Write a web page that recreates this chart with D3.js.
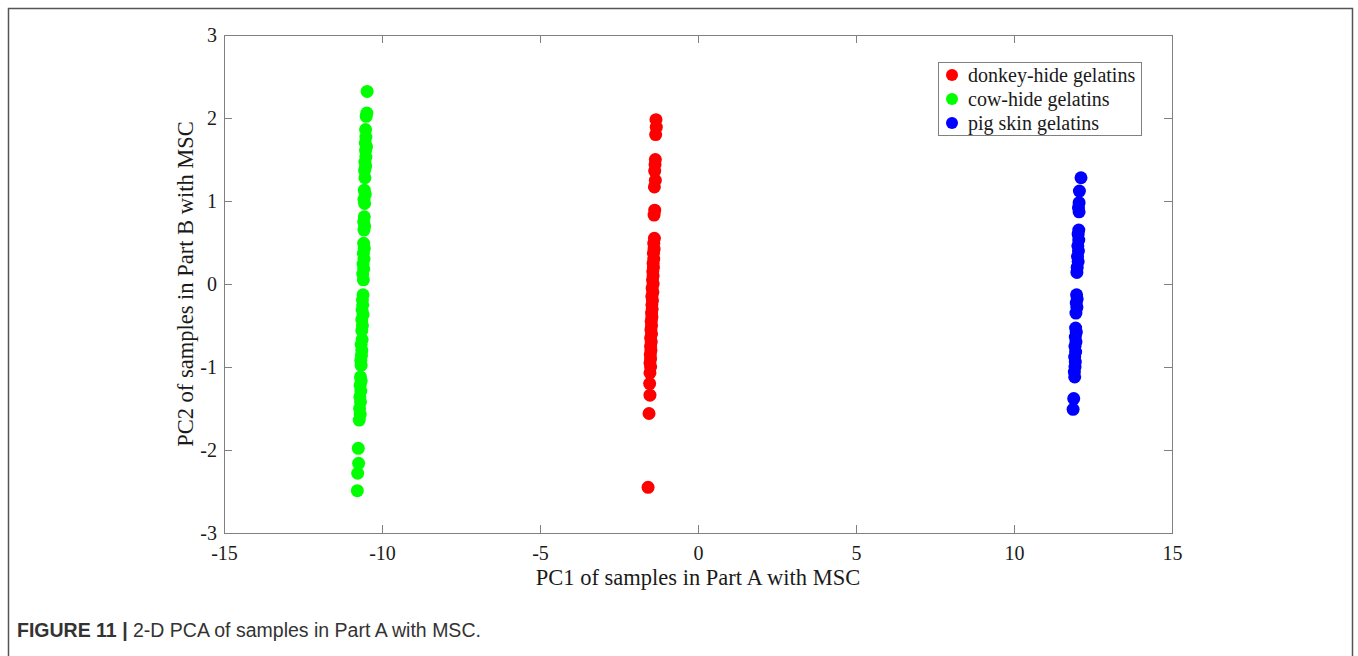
<!DOCTYPE html>
<meta charset="utf-8">
<style>
  body{
    margin: 0;
    background: #fff;
  }
  text{
    font-family: "Liberation Serif", "Times New Roman", serif;
    fill: #1a1a1a;
  }
  .caption text{
    font-family: "Liberation Sans", Arial, sans-serif;
    fill: #333;
  }
</style>

<svg width="1358" height="656"></svg>

<script src="https://d3js.org/d3.v7.min.js"></script>
<script>
  // data
  const seriesNames = ['donkey-hide gelatins', 'cow-hide gelatins', 'pig skin gelatins']
  const seriesColors = ['#ff0000', '#00ff00', '#0000ff']

  const donkeyPC1 = [-1.33, -1.32, -1.34, -1.35, -1.36, -1.37, -1.35, -1.38, -1.37, -1.39, -1.38, -1.40, -1.39, -1.41, -1.40, -1.42, -1.41, -1.43, -1.42, -1.44, -1.42, -1.45, -1.43, -1.46, -1.44, -1.46, -1.45, -1.47, -1.46, -1.48, -1.47, -1.49, -1.47, -1.50, -1.48, -1.50, -1.49, -1.51, -1.50, -1.52, -1.50, -1.52, -1.53, -1.52, -1.55, -1.58]
  const donkeyPC2 = [1.98, 1.89, 1.80, 1.50, 1.44, 1.36, 1.25, 1.17, 0.89, 0.83, 0.55, 0.49, 0.42, 0.37, 0.30, 0.25, 0.20, 0.15, 0.10, 0.05, 0.00, -0.05, -0.10, -0.15, -0.20, -0.25, -0.30, -0.35, -0.40, -0.45, -0.50, -0.55, -0.60, -0.65, -0.70, -0.75, -0.80, -0.85, -0.90, -0.95, -1.00, -1.07, -1.20, -1.34, -1.56, -2.45]

  const cowPC1 = [-10.47, -10.48, -10.50, -10.52, -10.51, -10.53, -10.49, -10.52, -10.51, -10.54, -10.52, -10.55, -10.54, -10.56, -10.53, -10.57, -10.55, -10.56, -10.58, -10.55, -10.57, -10.58, -10.56, -10.59, -10.57, -10.60, -10.58, -10.61, -10.59, -10.60, -10.62, -10.61, -10.63, -10.60, -10.64, -10.62, -10.64, -10.63, -10.66, -10.64, -10.65, -10.67, -10.66, -10.68, -10.66, -10.69, -10.67, -10.70, -10.68, -10.71, -10.69, -10.72, -10.75, -10.74, -10.77, -10.78]
  const cowPC2 = [2.32, 2.06, 2.02, 1.86, 1.77, 1.70, 1.65, 1.61, 1.53, 1.47, 1.42, 1.37, 1.28, 1.13, 1.08, 1.02, 0.97, 0.81, 0.75, 0.70, 0.65, 0.49, 0.43, 0.37, 0.30, 0.24, 0.18, 0.12, 0.05, -0.13, -0.19, -0.25, -0.31, -0.37, -0.43, -0.50, -0.56, -0.67, -0.73, -0.80, -0.86, -0.92, -0.98, -1.12, -1.17, -1.22, -1.29, -1.36, -1.42, -1.50, -1.57, -1.64, -1.98, -2.16, -2.28, -2.49]

  const pigPC1 = [12.12, 12.07, 12.06, 12.04, 12.06, 12.05, 12.03, 12.05, 12.02, 12.04, 12.01, 12.03, 12.00, 11.99, 11.98, 12.00, 11.97, 11.99, 11.96, 11.95, 11.97, 11.94, 11.96, 11.93, 11.95, 11.92, 11.94, 11.93, 11.91, 11.92, 11.89, 11.87]
  const pigPC2 = [1.28, 1.12, 0.98, 0.92, 0.87, 0.65, 0.60, 0.53, 0.46, 0.40, 0.33, 0.27, 0.20, 0.14, -0.13, -0.18, -0.23, -0.28, -0.35, -0.53, -0.58, -0.64, -0.70, -0.75, -0.82, -0.88, -0.94, -1.00, -1.06, -1.12, -1.38, -1.51]

  const xTicks = [-15, -10, -5, 0, 5, 10, 15]
  const yTicks = [-3, -2, -1, 0, 1, 2, 3]

  const xLabel = 'PC1 of samples in Part A with MSC'
  const yLabel = 'PC2 of samples in Part B with MSC'

  // visual values
  const plot = {left: 224, top: 35, right: 1172, bottom: 533}
  const tickLen = 8
  const axisColor = '#808080'

  const svg = d3.select('svg')

  // outer figure frame (open at the bottom)
  svg.append('path')
    .attr('d', 'M8.5,660 L8.5,8.5 L1352.5,8.5 L1352.5,660')
    .attr('fill', 'none')
    .attr('stroke', '#555')
    .attr('stroke-width', 1.5)

  const xScale = d3.scaleLinear()
    .domain([-15, 15])
    .range([plot.left, plot.right])
  const yScale = d3.scaleLinear()
    .domain([-3, 3])
    .range([plot.bottom, plot.top])

  // plain hyphen minus like the original
  const fmt = d=>String(d)

  // axes, ticks pointing inward
  const xAxis = d3.axisBottom(xScale).tickValues(xTicks).tickFormat(fmt).tickSizeInner(-tickLen).tickSizeOuter(0).tickPadding(13)
  const yAxis = d3.axisLeft(yScale).tickValues(yTicks).tickFormat(fmt).tickSizeInner(-tickLen).tickSizeOuter(0).tickPadding(7)
  const xTop = d3.axisTop(xScale).tickValues(xTicks).tickSizeInner(-tickLen).tickSizeOuter(0).tickFormat('')
  const yRight = d3.axisRight(yScale).tickValues(yTicks).tickSizeInner(-tickLen).tickSizeOuter(0).tickFormat('')

  function styleAxis(g){
    g.select('.domain').remove()
    g.selectAll('.tick line').attr('stroke', axisColor)
    g.selectAll('.tick text')
      .attr('fill', '#1a1a1a')
      .style('font-family', '"Liberation Serif", "Times New Roman", serif')
      .style('font-size', '20px')
  }

  svg.append('g')
    .attr('transform', 'translate(0,' + plot.bottom + ')')
    .call(xAxis).call(styleAxis)
  svg.append('g')
    .attr('transform', 'translate(' + plot.left + ',0)')
    .call(yAxis).call(styleAxis)
  svg.append('g')
    .attr('transform', 'translate(0,' + plot.top + ')')
    .call(xTop).call(styleAxis)
  svg.append('g')
    .attr('transform', 'translate(' + plot.right + ',0)')
    .call(yRight).call(styleAxis)

  svg.append('rect')
    .attr('x', plot.left + 0.5)
    .attr('y', plot.top + 0.5)
    .attr('width', plot.right - plot.left)
    .attr('height', plot.bottom - plot.top)
    .attr('fill', 'none')
    .attr('stroke', axisColor)

  // points
  const groups = [
    {x: donkeyPC1, y: donkeyPC2},
    {x: cowPC1, y: cowPC2},
    {x: pigPC1, y: pigPC2}
  ]

  groups.forEach((s, k)=>{
    svg.append('g')
      .selectAll('circle')
      .data(s.x.map((d, i)=>[d, s.y[i]]))
      .enter()
      .append('circle')
      .attr('cx', d=>xScale(d[0]))
      .attr('cy', d=>yScale(d[1]))
      .attr('r', 6.5)
      .attr('fill', seriesColors[k])
  })

  // axis labels
  svg.append('text')
    .attr('x', (plot.left + plot.right) / 2)
    .attr('y', 585)
    .attr('text-anchor', 'middle')
    .style('font-size', '22.5px')
    .text(xLabel)

  svg.append('text')
    .attr('transform', 'translate(193,' + ((plot.top + plot.bottom) / 2) + ') rotate(-90)')
    .attr('text-anchor', 'middle')
    .style('font-size', '22.5px')
    .text(yLabel)

  // legend
  const legend = svg.append('g').attr('transform', 'translate(938,62)')
  legend.append('rect')
    .attr('x', 0.5).attr('y', 0.5)
    .attr('width', 203).attr('height', 73)
    .attr('fill', '#fff')
    .attr('stroke', axisColor)

  const entries = legend.selectAll('g.entry')
    .data(seriesNames)
    .enter()
    .append('g')
    .attr('transform', (d, i)=>'translate(0,' + (13 + i * 24) + ')')
  entries.append('circle')
    .attr('cx', 14).attr('cy', 0).attr('r', 6)
    .attr('fill', (d, i)=>seriesColors[i])
  entries.append('text')
    .attr('x', 30).attr('y', 0).attr('dy', '0.35em')
    .style('font-size', '20px')
    .text(d=>d)

  // caption
  const cap = svg.append('g').attr('class', 'caption')
  const capText = cap.append('text')
    .attr('x', 17).attr('y', 637)
    .style('font-size', '19.5px')
  capText.append('tspan').style('font-weight', 'bold').text('FIGURE 11 ')
  capText.append('tspan').style('font-weight', 'bold').text('| ')
  capText.append('tspan').text('2-D PCA of samples in Part A with MSC.')
</script>
